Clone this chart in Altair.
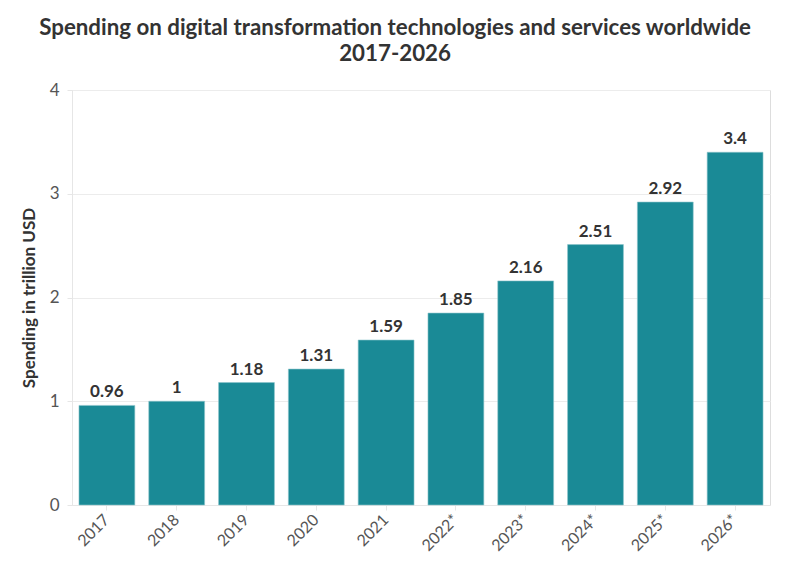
import altair as alt
import pandas as pd

years = ["2017", "2018", "2019", "2020", "2021", "2022*", "2023*", "2024*", "2025*", "2026*"]
values = [0.96, 1, 1.18, 1.31, 1.59, 1.85, 2.16, 2.51, 2.92, 3.4]
labels = ["0.96", "1", "1.18", "1.31", "1.59", "1.85", "2.16", "2.51", "2.92", "3.4"]

df = pd.DataFrame({"year": years, "value": values, "label": labels})

FONT = "Lato"

base = alt.Chart(df).encode(
    x=alt.X("year:N", sort=years, title=None,
            scale=alt.Scale(paddingInner=0.2, paddingOuter=0.1),
            axis=alt.Axis(labelAngle=-45, labelFontSize=16, labelColor="#555",
                          labelFont=FONT, domainColor="#e6e6e6", tickColor="#e6e6e6",
                          tickSize=5, labelPadding=7, labelAlign="right", labelBaseline="middle")),
    y=alt.Y("value:Q", title="Spending in trillion USD",
            scale=alt.Scale(domain=[0, 4]),
            axis=alt.Axis(values=[0, 1, 2, 3, 4], labelFontSize=17, labelColor="#555",
                          labelFont=FONT, titleFont=FONT, titleFontSize=17,
                          titleFontWeight="bold", titleColor="#333", domain=True,
                          domainColor="#e6e6e6", ticks=True, tickColor="#e6e6e6",
                          tickSize=5, gridColor="#ececec", titlePadding=11, labelPadding=8)),
)

bars = base.mark_bar(color="#1a8a96", stroke="#8cc5cb", strokeWidth=1, strokeOpacity=0.6)
text = base.mark_text(dy=-13, fontSize=17, fontWeight="bold", font=FONT, color="#333").encode(
    text="label:N")

chart = (bars + text).properties(
    width=698, height=415,
    padding={"left": 12, "top": 8, "right": 5, "bottom": 5},
    title=alt.Title(["Spending on digital transformation technologies and services worldwide",
                     "2017-2026"],
                    font=FONT, fontSize=22.3, fontWeight="bold", color="#333",
                    anchor="middle", frame="bounds", offset=16, lineHeight=26),
).configure_view(strokeWidth=0, strokeOpacity=0).configure(background="white")

chart.save("out.html", embed_options={"renderer": "svg", "actions": False})
